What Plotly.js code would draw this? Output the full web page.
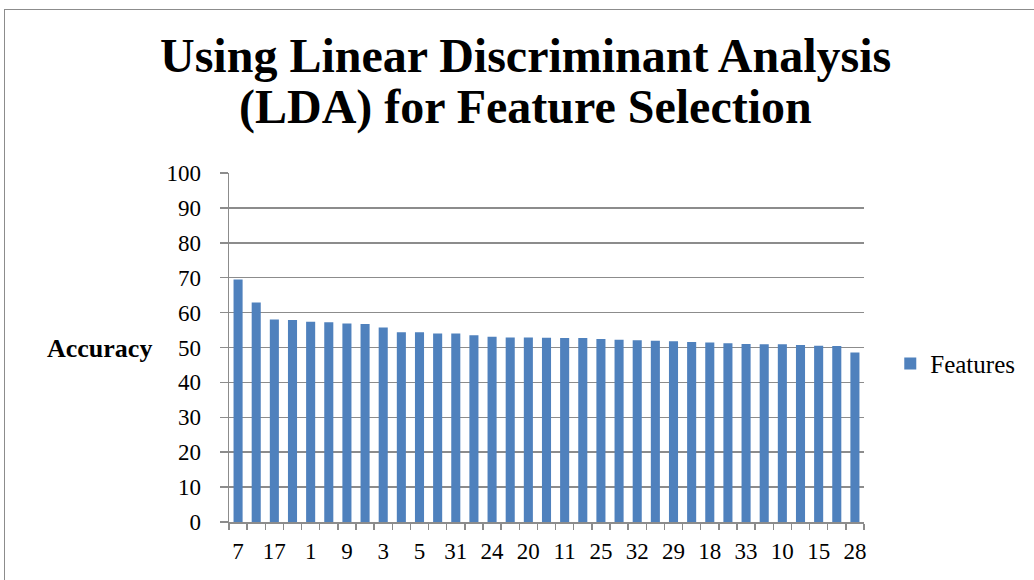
<!DOCTYPE html>
<html><head><meta charset="utf-8">
<script src="https://cdn.plot.ly/plotly-3.0.1.min.js"></script>
<style>
html,body{margin:0;padding:0;background:#fff;overflow:hidden;}
#frame{position:absolute;left:4px;top:9px;width:1200px;height:800px;border-left:1.5px solid #8c8c8c;border-top:1.5px solid #8c8c8c;}
#chart{position:absolute;left:0;top:0;width:1034px;height:580px;}
</style></head>
<body>
<div id="frame"></div>
<div id="chart"></div>
<script>
const features = ['7','2','17','4','1','6','9','8','3','12','5','13','31','14','24','16','20','19','11','21','25','22','32','23','29','26','18','27','33','30','10','34','15','35','28'];
const accuracy = [69.5,62.9,58.0,57.9,57.4,57.2,56.9,56.7,55.7,54.4,54.4,54.0,54.0,53.5,53.1,52.9,52.9,52.8,52.7,52.7,52.4,52.2,52.1,51.9,51.8,51.6,51.4,51.2,51.0,50.9,50.9,50.7,50.5,50.4,48.6];
const seriesName = 'Features';
const yTicks = [0,10,20,30,40,50,60,70,80,90,100];
const titleLines = ['Using Linear Discriminant Analysis','(LDA) for Feature Selection'];
const yTitle = 'Accuracy';

const tickText = features.map((f,i)=> i%2===0 ? f : '');

const serif = 'Liberation Serif, Times New Roman, serif';
const data = [{
  type:'bar', x:features, y:accuracy, name:seriesName,
  marker:{color:'#4f81bd', line:{width:0}},
  showlegend:true
}];
const layout = {
  width:1034, height:580,
  margin:{l:229, r:170, t:173, b:58, pad:0, autoexpand:false},
  paper_bgcolor:'rgba(0,0,0,0)', plot_bgcolor:'rgba(0,0,0,0)',
  font:{family:serif, color:'#000', size:20},
  bargap:0.5,
  xaxis:{type:'category', tickmode:'array', tickvals:features, ticktext:tickText, tickangle:0,
    tickson:'boundaries', ticks:'outside', ticklen:6, tickcolor:'#8c8c8c', tickwidth:1.5,
    showline:true, linecolor:'#8c8c8c', linewidth:1.5, showgrid:false, ticklabelstandoff:8,
    tickfont:{family:serif, size:23}, fixedrange:true, automargin:false},
  yaxis:{range:[0,100], tickmode:'array', tickvals:yTicks, ticks:'outside', ticklen:8,
    tickcolor:'#8c8c8c', tickwidth:1.5, showline:true, linecolor:'#8c8c8c', linewidth:1.5,
    showgrid:true, gridcolor:'#8c8c8c', gridwidth:1.5, zeroline:false, ticklabelstandoff:14,
    tickfont:{family:serif, size:23}, fixedrange:true, automargin:false},
  legend:{xref:'container', yref:'container', x:0.861, xanchor:'left', y:0.373, yanchor:'middle', font:{family:serif, size:25}, bgcolor:'rgba(0,0,0,0)', itemwidth:30},
  annotations:[
    {text:'<b>'+yTitle+'</b>', xref:'paper', yref:'paper', x:-0.118, y:0.497, xanchor:'right', yanchor:'middle', showarrow:false, font:{family:serif, size:26}},
    {text:'<b>'+titleLines[0]+'</b>', xref:'paper', yref:'paper', x:0.467, y:1.338, xanchor:'center', yanchor:'middle', showarrow:false, font:{family:serif, size:48}},
    {text:'<b>'+titleLines[1]+'</b>', xref:'paper', yref:'paper', x:0.467, y:1.189, xanchor:'center', yanchor:'middle', showarrow:false, font:{family:serif, size:48}}
  ]
};
Plotly.newPlot('chart', data, layout, {displayModeBar:false, staticPlot:true});
</script>
</body></html>
